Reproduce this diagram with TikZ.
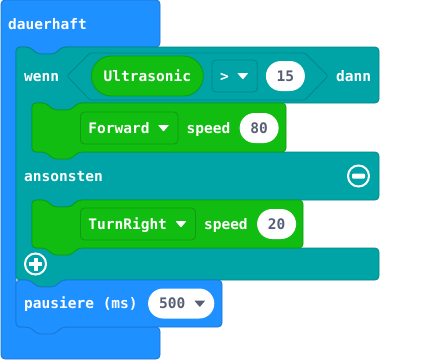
\documentclass[tikz,border=0pt]{standalone}
\usepackage{fontspec}
\setmonofont{DejaVu Sans Mono}
\usepackage{tikz}
\usetikzlibrary{positioning}
\definecolor{basicblue}{RGB}{30,144,255}
\definecolor{logicteal}{RGB}{0,164,166}
\definecolor{motorgreen}{RGB}{17,189,17}
\definecolor{numgray}{RGB}{87,94,117}
\newcommand{\blockfont}{\ttfamily\bfseries\fontsize{14.5pt}{17pt}\selectfont}

\begin{document}
\begin{tikzpicture}[
    x=1pt,y=-1pt,
    blk/.style={fill=#1,draw=#1!82!black,line width=0.8pt,rounded corners=4pt,line join=round},
    txt/.style={text=white,font=\blockfont,inner sep=0pt,text height=10.5pt,text depth=0pt,anchor=west},
    droptip/.style={path picture={\fill[#1,rounded corners=0.6pt] ([xshift=-20pt,yshift=3pt]path picture bounding box.east) -- ++(11pt,0pt) -- ++(-5.5pt,-6.5pt) -- cycle;}},
    dropbox/.style={fill=#1,draw=#1!82!black,line width=0.8pt,rounded corners=4pt,minimum height=32pt,inner xsep=8pt,inner ysep=0pt,text=white,font=\blockfont,text height=10.5pt,text depth=0pt,execute at end node={\hspace{20.5pt}},droptip=white},
    numfield/.style={fill=white,rounded corners=15pt,minimum height=30pt,inner xsep=#1,inner ysep=0pt,text=numgray,font=\blockfont,text height=10.5pt,text depth=0pt},
    numfield/.default=10.75pt,
    sensor/.style={fill=motorgreen,draw=motorgreen!82!black,line width=0.8pt,rounded corners=20pt,minimum height=40pt,inner xsep=12.3pt,inner ysep=0pt,text=white,font=\blockfont,text height=10.5pt,text depth=0pt},
    icon/.style={draw=white,line width=2pt}
]

\fill[white] (0,0) rectangle (431,360);
\useasboundingbox (0,0) rectangle (431,360);

% forever loop, wrapped around everything
\draw[blk=basicblue] (1,0) -- (160,0) -- (160,47) -- (62,47) -- (55,54) -- (37,54) -- (30,47) -- (16,47) -- (16,327) -- (160,327) -- (160,359) -- (1,359) -- cycle;

% if / else block
\draw[blk=logicteal] (16,47) -- (30,47) -- (37,54) -- (55,54) -- (62,47) -- (379,47) -- (379,103) -- (78,103) -- (71,110) -- (53,110) -- (46,103) -- (32,103) -- (32,152) -- (379,152) -- (379,200) -- (78,200) -- (71,207) -- (53,207) -- (46,200) -- (32,200) -- (32,248) -- (379,248) -- (379,280) -- (62,280) -- (55,287) -- (37,287) -- (30,280) -- (16,280) -- cycle;

% motor statements
\draw[blk=motorgreen] (32,103) -- (46,103) -- (53,110) -- (71,110) -- (78,103) -- (286,103) -- (286,152) -- (78,152) -- (71,159) -- (53,159) -- (46,152) -- (32,152) -- cycle;
\draw[blk=motorgreen] (32,200) -- (46,200) -- (53,207) -- (71,207) -- (78,200) -- (303,200) -- (303,248) -- (78,248) -- (71,255) -- (53,255) -- (46,248) -- (32,248) -- cycle;

% pause statement
\draw[blk=basicblue] (16,280) -- (30,280) -- (37,287) -- (55,287) -- (62,280) -- (222,280) -- (222,327) -- (62,327) -- (55,334) -- (37,334) -- (30,327) -- (16,327) -- cycle;

% condition slot
\draw[draw=logicteal!82!black,line width=0.8pt,line join=round,rounded corners=1.5pt] (67,76) -- (90,53) -- (305,53) -- (328,76) -- (305,100) -- (90,100) -- cycle;

\node[txt] (forever) at (8,24) {dauerhaft};

\node[txt] (if) at (24,76) {wenn};
\node[sensor,anchor=west] (ultra) at (91,76) {Ultrasonic};
\node[dropbox=logicteal,right=8pt of ultra] (cmp) {>};
\node[numfield,right=8pt of cmp] (dist) {15};
\node[txt] (then) at (336,76) {dann};

\node[dropbox=motorgreen,anchor=west] (fwd) at (80,128) {Forward};
\node[txt,right=8pt of fwd] (fwdspeed) {speed};
\node[numfield,right=9pt of fwdspeed] (fwdval) {80};

\node[txt] (else) at (24,176) {ansonsten};

\node[dropbox=motorgreen,anchor=west] (turn) at (80,224) {TurnRight};
\node[txt,right=8pt of turn] (turnspeed) {speed};
\node[numfield,right=9pt of turnspeed] (turnval) {20};

\node[txt] (pause) at (24,303.5) {pausiere (ms)};
\node[numfield=11pt,right=10pt of pause,execute at end node={\hspace{18pt}},droptip=numgray] (pauseval) {500};

% remove / add branch buttons
\draw[icon] (358.5,176) circle[radius=10.5pt];
\fill[white,rounded corners=1pt] (352,173.5) rectangle (365,178.5);
\draw[icon] (35.5,264) circle[radius=10.5pt];
\fill[white] (29,262) rectangle (42,266);
\fill[white] (33.5,257.5) rectangle (37.5,270.5);

\end{tikzpicture}
\end{document}
